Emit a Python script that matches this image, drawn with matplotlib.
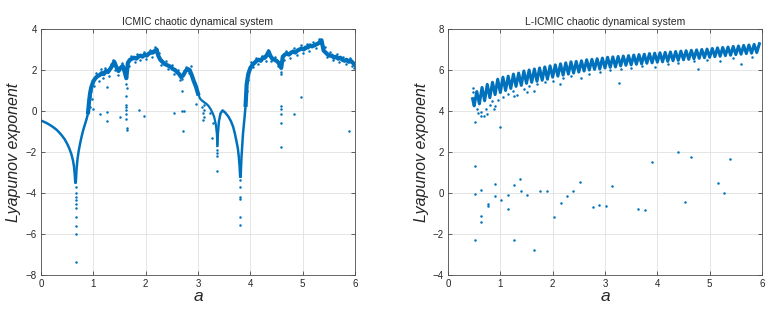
import matplotlib
matplotlib.use('Agg')
import matplotlib.pyplot as plt

BLUE = '#0072BD'

# ---------------- ICMIC (left) ----------------
icmic_curve1_a = [0.0, 0.05, 0.1, 0.15, 0.2, 0.25, 0.3, 0.35, 0.4, 0.45, 0.5, 0.54, 0.58, 0.61, 0.63, 0.645, 0.655]
icmic_curve1_v = [-0.47, -0.52, -0.58, -0.65, -0.73, -0.82, -0.92, -1.05, -1.2, -1.37, -1.6, -1.82, -2.1, -2.4, -2.7, -3.1, -3.5]
icmic_curve2_a = [0.665, 0.68, 0.70, 0.72, 0.75, 0.78, 0.81, 0.84, 0.87, 0.90]
icmic_curve2_v = [-3.5, -2.8, -2.3, -1.95, -1.55, -1.2, -0.9, -0.65, -0.4, -0.1]

icmic_band1_a = [0.90, 0.92, 0.94, 0.96, 0.98, 1.00, 1.04, 1.08, 1.12, 1.16, 1.20, 1.24, 1.28, 1.32, 1.36, 1.40,
                 1.44, 1.48, 1.52, 1.56, 1.60, 1.63, 1.66, 1.70, 1.74, 1.78, 1.82, 1.86, 1.90, 1.94, 1.98, 2.02,
                 2.06, 2.10, 2.14, 2.18, 2.21, 2.24, 2.28, 2.32, 2.36, 2.40, 2.44, 2.48, 2.52, 2.56, 2.60, 2.64,
                 2.68, 2.72, 2.76, 2.80, 2.84, 2.88, 2.92, 2.96, 3.00]
icmic_band1_v = [-0.05, 0.5, 0.9, 1.15, 1.3, 1.45, 1.6, 1.7, 1.75, 1.85, 1.8, 1.95, 1.9, 2.05, 2.2, 2.4,
                 2.15, 1.95, 2.1, 2.2, 1.9, 1.6, 2.35, 2.5, 2.55, 2.6, 2.55, 2.65, 2.7, 2.65, 2.75, 2.7,
                 2.8, 2.85, 2.85, 2.95, 3.0, 2.7, 2.5, 2.4, 2.3, 2.25, 2.2, 2.15, 2.05, 2.0, 1.9, 1.8,
                 1.65, 1.75, 1.95, 2.05, 2.0, 1.75, 1.45, 1.2, 0.85]
icmic_tail_a = [3.00, 3.04, 3.08, 3.12, 3.16, 3.20, 3.24, 3.28, 3.31, 3.34, 3.36, 3.37]
icmic_tail_v = [0.85, 0.6, 0.5, 0.42, 0.35, 0.25, 0.1, -0.1, -0.3, -0.65, -1.1, -1.6]
icmic_bump_a = [3.37, 3.38, 3.40, 3.43, 3.47, 3.52, 3.58, 3.63, 3.67, 3.70, 3.73, 3.76, 3.78, 3.795, 3.805]
icmic_bump_v = [-1.7, -1.1, -0.5, -0.12, 0.03, -0.08, -0.27, -0.5, -0.76, -1.05, -1.41, -1.8, -2.23, -2.7, -3.2]
icmic_curve3_a = [3.815, 3.83, 3.86, 3.89, 3.91]
icmic_curve3_v = [-3.2, -2.3, -1.1, -0.3, 0.3]
icmic_band2_a = [3.91, 3.93, 3.96, 4.0, 4.04, 4.08, 4.12, 4.16, 4.2, 4.24, 4.28, 4.32, 4.35, 4.38, 4.42, 4.46,
                 4.5, 4.54, 4.57, 4.59, 4.62, 4.66, 4.7, 4.74, 4.78, 4.82, 4.86, 4.9, 4.94, 4.98, 5.02, 5.06,
                 5.1, 5.14, 5.18, 5.22, 5.26, 5.3, 5.34, 5.36, 5.4, 5.44, 5.48, 5.52, 5.56, 5.6, 5.64, 5.68,
                 5.72, 5.76, 5.8, 5.84, 5.88, 5.92, 5.96, 6.0]
icmic_band2_v = [0.3, 1.3, 1.8, 2.1, 2.25, 2.35, 2.45, 2.5, 2.45, 2.6, 2.6, 2.75, 2.9, 2.7, 2.55, 2.5,
                 2.45, 2.35, 2.2, 2.1, 2.65, 2.75, 2.8, 2.75, 2.85, 2.9, 2.85, 2.95, 3.0, 3.05, 3.0, 3.1,
                 3.1, 3.2, 3.15, 3.2, 3.25, 3.3, 3.4, 3.45, 2.95, 2.85, 2.75, 2.7, 2.7, 2.6, 2.65, 2.55,
                 2.6, 2.5, 2.45, 2.5, 2.4, 2.45, 2.35, 2.25]
icmic_fringe_a = [0.93, 0.93, 0.95, 0.97, 1.02, 1.05, 1.1, 1.15, 1.18, 1.22, 1.3, 1.34, 1.38, 1.42, 1.47, 1.55,
                  1.58, 1.62, 1.64, 1.68, 1.72, 1.8, 1.84, 1.9, 1.96, 2.0, 2.08, 2.12, 2.17, 2.26, 2.3, 2.38,
                  2.42, 2.5, 2.55, 2.62, 2.66, 2.7, 2.78, 2.82, 2.86, 2.9, 2.94, 2.98,
                  3.92, 3.93, 3.95, 3.98, 4.02, 4.06, 4.1, 4.15, 4.22, 4.3, 4.33, 4.4, 4.48, 4.52, 4.58, 4.58,
                  4.64, 4.68, 4.76, 4.84, 4.9, 4.96, 5.0, 5.08, 5.12, 5.2, 5.25, 5.32, 5.36, 5.42, 5.46, 5.52,
                  5.58, 5.65, 5.7, 5.78, 5.82, 5.9, 5.94, 5.98]
icmic_fringe_v = [0.2, 0.7, 1.0, 0.6, 1.2, 1.85, 1.45, 2.05, 1.6, 2.1, 1.7, 2.3, 2.5, 2.0, 1.75, 2.35,
                  1.95, 1.3, 1.1, 2.2, 2.7, 2.4, 2.8, 2.5, 2.9, 2.55, 3.0, 2.65, 3.1, 2.85, 2.25, 2.45,
                  2.05, 2.25, 1.8, 2.0, 1.5, 1.55, 2.15, 1.85, 2.2, 1.6, 1.35, 1.0,
                  0.7, 1.0, 1.5, 2.0, 2.4, 2.15, 2.6, 2.3, 2.7, 2.45, 3.0, 2.45, 2.65, 2.2, 1.8, 1.9,
                  2.5, 2.95, 2.6, 3.05, 2.75, 3.2, 2.85, 3.25, 2.95, 3.35, 3.05, 3.5, 3.2, 3.1, 2.65, 2.9,
                  2.5, 2.8, 2.4, 2.65, 2.3, 2.6, 2.2, 2.1]
icmic_pts_a = [0.66, 0.66, 0.66, 0.66, 0.66, 0.66, 0.66, 0.66, 0.66, 0.66,
               1.0, 1.13, 1.27, 1.27, 1.27, 1.51, 1.63, 1.63, 1.63, 1.63, 1.63, 1.63, 1.64, 1.64,
               1.87, 1.97, 2.54, 2.70, 2.70, 2.73, 2.71, 2.97, 3.08, 3.09, 3.10, 3.11, 3.11, 3.11,
               3.23, 3.28, 3.26, 3.37, 3.37, 3.37, 3.37,
               3.80, 3.80, 3.80, 3.80, 3.80, 3.80, 3.80, 3.80, 3.80,
               4.59, 4.59, 4.59, 4.59, 4.59, 4.83, 4.96, 5.88]
icmic_pts_v = [-3.7, -4.02, -4.2, -4.35, -4.55, -4.75, -5.16, -5.6, -5.98, -7.38,
               0.09, -0.13, 1.18, -0.03, -0.47, -0.29, 0.74, 0.3, 0.19, 0.05, -0.14, -0.37, -0.84, -0.92,
               0.04, -0.24, -0.08, 0.97, 0.0, 0.0, -0.96, 0.33, 0.2, -0.1, -0.45, 0.3, 0.05, -0.3,
               -0.11, -0.6, -1.33, -1.9, -2.05, -2.2, -2.95,
               -2.8, -2.96, -3.12, -3.37, -3.73, -4.19, -4.31, -5.16, -5.58,
               0.25, 0.09, -0.16, -0.57, -1.77, -0.14, 0.67, -0.96]

# ---------------- L-ICMIC (right) ----------------
licmic_band_a = [0.47, 0.50, 0.55, 0.60, 0.65, 0.70, 0.75, 0.80, 0.85, 0.90, 0.95, 1.00, 1.05, 1.10, 1.15, 1.20, 1.25,
                 1.30, 1.35, 1.40, 1.45, 1.50, 1.55, 1.60, 1.65, 1.70, 1.75, 1.80, 1.85, 1.90, 1.95, 2.00, 2.05,
                 2.10, 2.15, 2.20, 2.25, 2.30, 2.35, 2.40, 2.45, 2.50, 2.55, 2.60, 2.65, 2.70, 2.75, 2.80, 2.85,
                 2.90, 2.95, 3.00, 3.05, 3.10, 3.15, 3.20, 3.25, 3.30, 3.35, 3.40, 3.45, 3.50, 3.55, 3.60, 3.65,
                 3.70, 3.75, 3.80, 3.85, 3.90, 3.95, 4.00, 4.05, 4.10, 4.15, 4.20, 4.25, 4.30, 4.35, 4.40, 4.45,
                 4.50, 4.55, 4.60, 4.65, 4.70, 4.75, 4.80, 4.85, 4.90, 4.95, 5.00, 5.05, 5.10, 5.15, 5.20, 5.25,
                 5.30, 5.35, 5.40, 5.45, 5.50, 5.55, 5.60, 5.65, 5.70, 5.75, 5.80, 5.85, 5.90, 5.95]
licmic_band_v = [4.6, 4.25, 4.95, 4.35, 5.15, 4.5, 5.3, 4.65, 5.4, 4.8, 5.55, 4.9, 5.65, 5.0, 5.7, 5.1, 5.8,
                 5.2, 5.85, 5.25, 5.95, 5.35, 6.0, 5.4, 6.05, 5.45, 6.1, 5.5, 6.15, 5.55, 6.2, 5.65, 6.25,
                 5.7, 6.3, 5.75, 6.35, 5.8, 6.4, 5.85, 6.42, 5.9, 6.45, 5.95, 6.5, 6.0, 6.52, 6.03, 6.55,
                 6.05, 6.58, 6.1, 6.62, 6.13, 6.64, 6.15, 6.66, 6.2, 6.68, 6.23, 6.7, 6.25, 6.73, 6.28, 6.75,
                 6.3, 6.77, 6.33, 6.8, 6.35, 6.82, 6.38, 6.84, 6.4, 6.86, 6.42, 6.88, 6.45, 6.9, 6.47, 6.92,
                 6.5, 6.94, 6.52, 6.96, 6.55, 6.98, 6.57, 7.0, 6.6, 7.02, 6.62, 7.05, 6.65, 7.08, 6.67, 7.1,
                 6.7, 7.12, 6.72, 7.15, 6.75, 7.17, 6.77, 7.2, 6.8, 7.22, 6.82, 7.25, 6.85, 7.28]
licmic_fringe_a = [0.47, 0.47, 0.55, 0.58, 0.68, 0.72, 0.8, 0.85, 0.95, 1.05, 1.15, 1.25, 1.32, 1.45, 1.55, 1.7,
                   1.85, 2.0, 2.2, 2.35, 2.55, 2.7, 2.9, 3.1, 3.3, 3.5, 3.7, 3.95, 4.2, 4.4, 4.7, 4.95,
                   5.2, 5.45, 5.6, 5.8]
licmic_fringe_v = [5.1, 4.95, 4.1, 3.9, 3.75, 4.1, 4.3, 4.5, 4.55, 4.7, 4.85, 5.0, 4.8, 5.05, 5.2, 5.3,
                   5.4, 5.45, 5.6, 5.7, 5.6, 5.8, 5.9, 6.0, 6.05, 6.1, 6.2, 6.15, 6.3, 6.35, 6.45, 6.5,
                   6.45, 6.6, 6.3, 6.65]
licmic_pts_a = [0.51, 1.0, 0.52, 0.52, 0.52, 0.64, 0.64, 0.64, 0.76, 0.76, 0.89, 0.89, 1.01, 1.14, 1.14,
                1.26, 1.26, 1.38, 1.39, 1.51, 1.64, 1.76, 1.89, 2.02, 2.15, 2.27, 2.39, 2.52, 2.77, 2.89,
                3.02, 3.14, 3.64, 3.77, 3.90, 4.39, 4.52, 4.65, 5.15, 5.28, 5.39, 3.27, 4.77,
                0.63, 0.64, 0.75, 0.88, 0.89, 1.27, 1.5, 1.64, 2.14]
licmic_pts_v = [3.48, 3.24, 1.31, -0.04, -2.3, 0.14, -1.11, -1.41, -0.52, -0.64, 0.43, -0.15, -0.36, -0.1, -0.8,
                0.37, -2.3, 0.66, 0.09, -0.1, -2.79, 0.09, 0.11, -1.16, -0.51, -0.15, 0.09, 0.53, -0.69, -0.59,
                -0.61, 0.35, -0.79, -0.84, 1.51, 2.0, -0.46, 1.77, 0.5, 0.01, 1.64, 5.39, 6.04,
                3.75, 3.95, 3.85, 4.1, 4.25, 4.75, 4.95, 4.98, 5.3]

x_ticks = [0, 1, 2, 3, 4, 5, 6]
left_yticks = [-8, -6, -4, -2, 0, 2, 4]
right_yticks = [-4, -2, 0, 2, 4, 6, 8]

plt.rcParams['font.family'] = ['Liberation Sans', 'DejaVu Sans']

fig = plt.figure(figsize=(7.76, 3.22), dpi=100)
ax1 = fig.add_axes([41 / 776, 47 / 322, 314 / 776, 246 / 322])
ax2 = fig.add_axes([448 / 776, 47 / 322, 314 / 776, 246 / 322])


def style(ax, yt, title):
    ax.set_xlim(0, 6)
    ax.set_ylim(yt[0], yt[-1])
    ax.set_xticks(x_ticks)
    ax.set_yticks(yt)
    ax.grid(True, color='#e0e0e0', lw=0.6)
    ax.set_axisbelow(True)
    ax.tick_params(direction='in', length=3, width=0.5, colors='#262626', labelsize=7,
                   top=True, right=True, pad=3)
    for s in ax.spines.values():
        s.set_color('#4d4d4d')
        s.set_linewidth(0.6)
    ax.set_title(title, fontsize=7.5, color='#262626', pad=3)
    ax.set_xlabel('a', fontsize=12.5, style='italic', color='#262626', labelpad=0)
    ax.set_ylabel('Lyapunov exponent', fontsize=11.5, style='italic', color='#262626', labelpad=3)


MS = 3.6
# left
ax1.plot(icmic_curve1_a, icmic_curve1_v, color=BLUE, lw=1.8, solid_capstyle='round')
ax1.plot(icmic_curve2_a, icmic_curve2_v, color=BLUE, lw=1.8, solid_capstyle='round')
ax1.plot(icmic_band1_a, icmic_band1_v, color=BLUE, lw=3.0, solid_joinstyle='round')
ax1.plot(icmic_tail_a, icmic_tail_v, color=BLUE, lw=1.6, solid_joinstyle='round')
ax1.plot(icmic_bump_a, icmic_bump_v, color=BLUE, lw=1.8, solid_joinstyle='round')
ax1.plot(icmic_curve3_a, icmic_curve3_v, color=BLUE, lw=1.8)
ax1.plot(icmic_band2_a, icmic_band2_v, color=BLUE, lw=3.0, solid_joinstyle='round')
ax1.plot(icmic_fringe_a, icmic_fringe_v, '.', color=BLUE, ms=MS, mew=0)
ax1.plot(icmic_pts_a, icmic_pts_v, '.', color=BLUE, ms=MS, mew=0)
style(ax1, left_yticks, 'ICMIC chaotic dynamical system')

# right
ax2.plot(licmic_band_a, licmic_band_v, color=BLUE, lw=2.2, solid_joinstyle='round')
ax2.plot(licmic_fringe_a, licmic_fringe_v, '.', color=BLUE, ms=MS, mew=0)
ax2.plot(licmic_pts_a, licmic_pts_v, '.', color=BLUE, ms=MS, mew=0)
style(ax2, right_yticks, 'L-ICMIC chaotic dynamical system')

fig.savefig('out.png', dpi=100)
